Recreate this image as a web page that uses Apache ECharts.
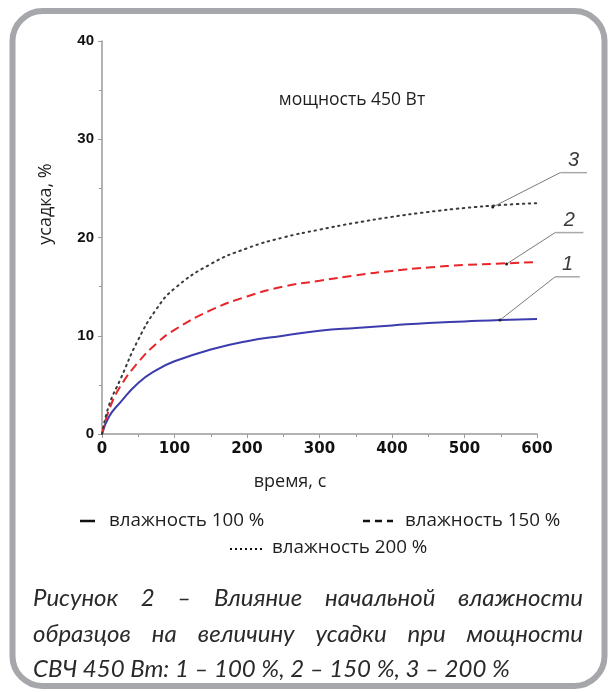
<!DOCTYPE html>
<html><head><meta charset="utf-8">
<script src="https://cdn.jsdelivr.net/npm/echarts@6/dist/echarts.min.js"></script>
<style>html,body{margin:0;padding:0;background:#fff}#c{width:608px;height:692px}</style>
</head><body><div id="c"></div>
<script>
// ---- data ----
const timeS     = [0, 10, 25, 50, 75, 100, 150, 200, 250, 300, 350, 400, 450, 500, 550, 600];
const shrink100 = [0, 1.8, 3.2, 5.2, 6.5, 7.4, 8.6, 9.45, 10.0, 10.5, 10.8, 11.05, 11.3, 11.45, 11.6, 11.7];
const shrink150 = [0, 2.5, 4.8, 7.3, 9.2, 10.6, 12.6, 14.0, 15.0, 15.6, 16.15, 16.6, 16.95, 17.2, 17.35, 17.5];
const shrink200 = [0, 3.0, 5.5, 9.6, 12.7, 14.8, 17.3, 18.9, 20.0, 20.8, 21.5, 22.1, 22.6, 23.0, 23.3, 23.5];
const legendNames = ['влажность 100 %', 'влажность 150 %', 'влажность 200 %'];
const curveNumbers = ['1', '2', '3'];
// leader lines (data coordinates): point on curve, elbow, end of shelf
const leader1 = [[549, 11.6], [625, 16.0], [659, 16.0]];
const leader2 = [[558, 17.3], [625, 20.5], [664, 20.5]];
const leader3 = [[539, 23.1], [632, 26.6], [669, 26.6]];
const xTitle = 'время, с';
const yTitle = 'усадка, %';
const powerNote = 'мощность 450 Вт';
const captionLines = [
  'Рисунок 2 – Влияние начальной влажности',
  'образцов на величину усадки при мощности',
  'СВЧ 450 Вт: 1 – 100 %, 2 – 150 %, 3 – 200 %'
];

const pairs = ys => timeS.map((t, i) => [t, ys[i]]);
const chart = echarts.init(document.getElementById('c'), null, {renderer: 'canvas'});
const sansFont = "'Open Sans', 'Noto Sans', sans-serif";

const option = {
  animation: false,
  backgroundColor: '#fff',
  grid: {left: 102, top: 41, width: 435, height: 393, containLabel: false},
  xAxis: {
    type: 'value', min: 0, max: 600, interval: 100,
    axisLine: {show: true, lineStyle: {color: '#9a9a9a', width: 1.5}},
    axisTick: {show: true, length: 4, lineStyle: {color: '#9a9a9a'}},
    minorTick: {show: true, splitNumber: 2, length: 3, lineStyle: {color: '#9a9a9a'}},
    splitLine: {show: false},
    axisLabel: {color: '#111', fontFamily: "'DejaVu Sans', sans-serif", fontWeight: 'bold', fontSize: 15, margin: 8}
  },
  yAxis: {
    type: 'value', min: 0, max: 40, interval: 10,
    axisLine: {show: true, lineStyle: {color: '#9a9a9a', width: 1.5}},
    axisTick: {show: true, length: 4, lineStyle: {color: '#9a9a9a'}},
    minorTick: {show: true, splitNumber: 2, length: 3, lineStyle: {color: '#9a9a9a'}},
    splitLine: {show: false},
    axisLabel: {color: '#111', fontFamily: "'Liberation Sans', Arial, sans-serif", fontWeight: 'bold', fontSize: 15, margin: 8}
  },
  series: [
    {name: legendNames[0], type: 'line', smooth: true, symbol: 'none', data: pairs(shrink100),
     lineStyle: {color: '#3c3cae', width: 2}},
    {name: legendNames[1], type: 'line', smooth: true, symbol: 'none', data: pairs(shrink150),
     lineStyle: {color: '#e8262a', width: 2, type: [9, 5]}},
    {name: legendNames[2], type: 'line', smooth: true, symbol: 'none', data: pairs(shrink200),
     lineStyle: {color: '#3a3a3a', width: 2, type: [1.5, 4.5], cap: 'round'}}
  ]
};
chart.setOption(option);

// ---- annotations built from data coordinates ----
const px = p => chart.convertToPixel({gridIndex: 0}, p);
const g = [];
// frame
g.push({type: 'rect', shape: {x: 12.5, y: 11, width: 592, height: 675, r: 30},
        style: {fill: 'none', stroke: '#a6a7ab', lineWidth: 6}, z: 0});

[leader1, leader2, leader3].forEach((ld, i) => {
  const a = px(ld[0]), b = px(ld[1]), c = px(ld[2]);
  g.push({type: 'polyline', shape: {points: [a, b]}, style: {stroke: '#7a7a7a', lineWidth: 1, fill: null}, z: 10});
  g.push({type: 'polyline', shape: {points: [b, c]}, style: {stroke: '#a8a8a8', lineWidth: 1.5, fill: null}, z: 10});
  g.push({type: 'circle', shape: {cx: a[0], cy: a[1], r: 1.5}, style: {fill: '#222'}, z: 11});
  g.push({type: 'text', x: (b[0] + c[0]) / 2, y: b[1] - 2, z: 11,
          style: {text: curveNumbers[i], font: "italic 20px 'Liberation Sans', sans-serif",
                  fill: '#3a3a3a', align: 'center', verticalAlign: 'bottom'}});
});

// titles
g.push({type: 'text', x: 352, y: 100, style: {text: powerNote, font: '17.5px ' + sansFont, fill: '#1e1e1e', align: 'center', verticalAlign: 'middle'}});
g.push({type: 'text', x: 290, y: 482, style: {text: xTitle, font: '18px ' + sansFont, fill: '#1e1e1e', align: 'center', verticalAlign: 'middle'}});
g.push({type: 'text', x: 46, y: 204, rotation: Math.PI / 2, style: {text: yTitle, font: '18px ' + sansFont, fill: '#1e1e1e', align: 'center', verticalAlign: 'middle'}});

// legend
const legFont = '18.8px ' + sansFont;
g.push({type: 'line', shape: {x1: 80, y1: 521, x2: 95, y2: 521}, style: {stroke: '#111', lineWidth: 2.5}});
g.push({type: 'text', x: 109, y: 521, style: {text: legendNames[0], font: legFont, fill: '#1e1e1e', verticalAlign: 'middle'}});
g.push({type: 'line', shape: {x1: 363, y1: 521, x2: 393, y2: 521}, style: {stroke: '#111', lineWidth: 2.5, lineDash: [7, 5]}});
g.push({type: 'text', x: 405, y: 521, style: {text: legendNames[1], font: legFont, fill: '#1e1e1e', verticalAlign: 'middle'}});
g.push({type: 'line', shape: {x1: 230, y1: 549, x2: 262, y2: 549}, style: {stroke: '#111', lineWidth: 2, lineDash: [2, 3]}});
g.push({type: 'text', x: 272, y: 548, style: {text: legendNames[2], font: legFont, fill: '#1e1e1e', verticalAlign: 'middle'}});

// caption (first two lines justified)
const capFont = "italic 24px Lato, 'Open Sans', sans-serif";
const cv = document.createElement('canvas').getContext('2d');
cv.font = capFont;
const capLeft = 33, capRight = 583, capY = [598, 634, 669];
captionLines.forEach((line, i) => {
  if (i < 2) {
    const words = line.split(' ');
    const widths = words.map(w => cv.measureText(w).width);
    const total = widths.reduce((s, w) => s + w, 0);
    const gap = (capRight - capLeft - total) / (words.length - 1);
    let x = capLeft;
    words.forEach((w, k) => {
      g.push({type: 'text', x: x, y: capY[i], style: {text: w, font: capFont, fill: '#2a2a2a', verticalAlign: 'middle'}});
      x += widths[k] + gap;
    });
  } else {
    g.push({type: 'text', x: capLeft, y: capY[i], style: {text: line, font: capFont, fill: '#2a2a2a', verticalAlign: 'middle'}});
  }
});

chart.setOption({graphic: {elements: g}});
</script></body></html>
